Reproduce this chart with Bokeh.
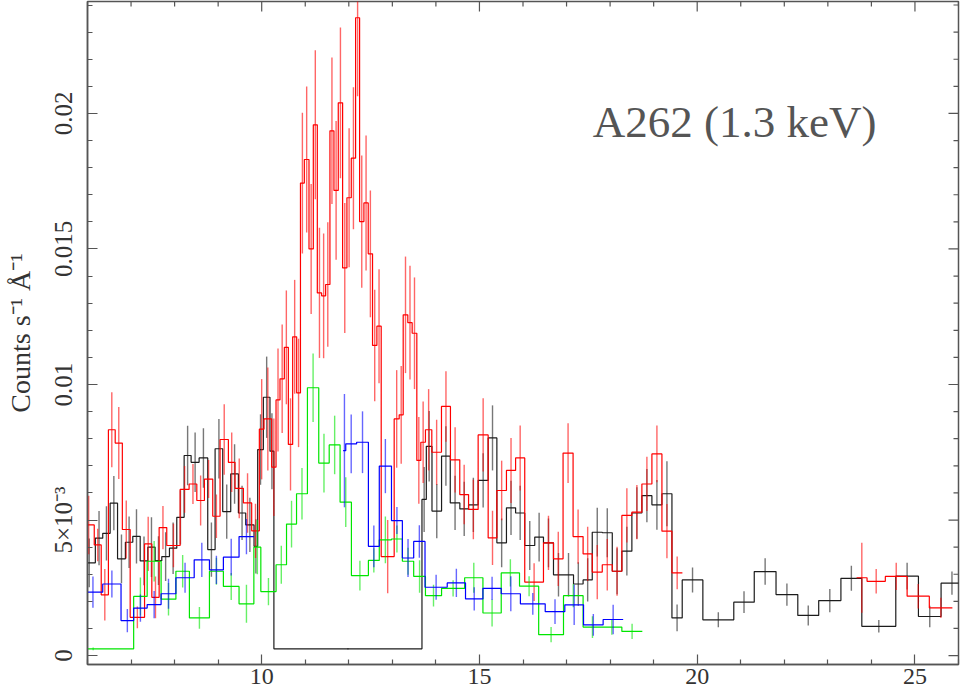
import math
from bokeh.plotting import figure
from bokeh.models import Range1d, FixedTicker, Label
from bokeh.embed import file_html
from bokeh.resources import INLINE

# ---------------- data (rates in units of 1e-3 counts/s/A) ----------------
SCALE = 1e-3

x_major_ticks = [10, 15, 20, 25]
x_minor_ticks = [6, 7, 8, 9, 11, 12, 13, 14, 16, 17, 18, 19, 21, 22, 23, 24, 26]
y_major_ticks = [0, 0.005, 0.01, 0.015, 0.02]
y_tick_labels = ["0", "5×10⁻³", "0.01", "0.015", "0.02"]
y_minor_ticks = [0.001, 0.002, 0.003, 0.004, 0.006, 0.007, 0.008, 0.009, 0.011,
                 0.012, 0.013, 0.014, 0.016, 0.017, 0.018, 0.019, 0.021, 0.022,
                 0.023, 0.024]
title_text = "A262 (1.3 keV)"
y_axis_title = "Counts s⁻¹ Å⁻¹"

black_edges = [5.90, 6.18, 6.35, 6.52, 6.69, 6.87, 7.04, 7.21, 7.385, 7.553, 7.706,
               7.882, 8.05, 8.219, 8.379, 8.563, 8.761, 8.93, 9.105, 9.289, 9.465,
               9.633, 9.824, 9.908, 10.038, 10.19, 10.28, 13.68, 13.78, 13.91, 14.13,
               14.33, 14.55, 14.75, 14.97, 15.20, 15.40, 15.62, 15.83, 16.04, 16.27,
               16.47, 16.70, 16.93, 17.16, 17.38, 17.59, 17.82, 18.05, 18.27, 18.50,
               18.73, 18.96, 19.19, 19.42, 19.656, 20.13, 20.84, 21.31, 21.81, 22.31,
               22.79, 23.30, 23.78, 24.56, 25.08, 25.60, 26.10]
black_vals = [3.42, 4.33, 4.51, 5.62, 3.57, 4.18, 4.40, 3.49, 4.0, 3.5, 3.65, 3.96,
              5.10, 7.38, 7.13, 7.29, 3.91, 7.63, 5.31, 6.70, 5.26, 4.82, 4.03, 7.60,
              9.53, 7.54, 0.25, 5.76, 7.72, 5.33, 7.36, 5.63, 5.41, 5.56, 6.46, 8.03,
              4.16, 5.45, 5.26, 4.06, 4.37, 4.16, 2.98, 2.98, 2.64, 2.79, 4.55, 4.53,
              3.11, 3.85, 5.26, 5.90, 5.56, 5.97, 1.39, 2.79, 1.32, 1.97, 3.10, 2.25,
              1.48, 2.03, 2.85, 1.08, 2.93, 1.44, 2.67]
black_errs = [0.9, 1.0, 1.0, 1.0, 0.9, 0.95, 1.0, 0.9, 1.1, 0.9, 0.9, 0.95, 1.0, 1.1,
              1.1, 1.1, 1.0, 1.1, 1.0, 1.1, 1.0, 1.0, 1.0, 1.3, 1.5, 1.4, 0.03, 1.2,
              1.3, 1.0, 1.1, 1.0, 1.0, 1.0, 1.0, 1.2, 0.9, 1.0, 1.0, 0.9, 0.9, 0.9,
              0.8, 0.8, 0.8, 0.8, 0.9, 0.9, 0.85, 0.9, 0.95, 0.98, 0.92, 1.2, 0.49,
              0.46, 0.28, 0.4, 0.49, 0.41, 0.37, 0.43, 0.46, 0.23, 0.49, 0.4, 0.43]

red_edges = [5.90, 6.155, 6.315, 6.48, 6.636, 6.80, 6.98, 7.31, 7.477, 7.645, 7.82,
             8.127, 8.333, 8.51, 8.685, 8.876, 9.044, 9.235, 9.388, 9.58, 9.77, 9.946,
             10.053, 10.229, 10.329, 10.42, 10.52, 10.612, 10.711, 10.803, 10.89,
             10.979, 11.086, 11.185, 11.277, 11.376, 11.468, 11.567, 11.659, 11.758,
             11.858, 11.957, 12.057, 12.156, 12.248, 12.347, 12.446, 12.545, 12.645,
             12.744, 13.042, 13.157, 13.249, 13.355, 13.455, 13.562, 13.654, 13.76,
             13.906, 14.128, 14.334, 14.548, 14.75, 14.97, 15.20, 15.40, 15.62, 15.83,
             16.04, 16.47, 16.70, 16.92, 17.15, 17.38, 17.59, 17.82, 18.05, 18.27,
             18.50, 18.73, 18.96, 19.19, 19.42, 19.66, 23.66, 23.90, 24.32, 24.82,
             25.33, 25.86]
red_vals = [4.82, 4.08, 2.24, 8.33, 7.84, 4.65, 1.41, 4.12, 2.15, 4.72, 4.06, 6.13,
            6.33, 5.72, 6.51, 5.14, 7.97, 7.13, 6.17, 5.63, 4.6, 8.35, 8.73, 6.95,
            9.43, 10.21, 11.37, 7.79, 11.76, 9.69, 17.43, 18.30, 15.0, 19.58, 13.38,
            13.27, 13.69, 19.36, 17.16, 20.39, 14.30, 16.89, 18.35, 23.53, 16.01,
            16.70, 14.82, 11.44, 12.15, 3.65, 8.73, 8.88, 12.57, 12.28, 11.89, 7.2,
            7.87, 8.33, 7.5, 9.19, 7.22, 5.94, 5.39, 8.14, 4.34, 6.09, 6.83, 7.29,
            2.71, 4.16, 3.57, 7.47, 4.39, 3.75, 3.08, 3.35, 3.11, 5.17, 5.29, 6.33,
            7.44, 4.59, 3.05, None, 2.87, 2.74, 2.92, 2.19, 1.76]
red_errs = [1.08, 0.6, 0.95, 1.38, 1.33, 1.07, 0.4, 1.0, 0.77, 0.8, 0.8, 0.86, 0.74,
            0.92, 0.7, 0.8, 1.3, 1.1, 1.1, 1.1, 1.0, 1.85, 1.9, 1.8, 1.9, 2.0, 2.1,
            1.7, 2.1, 2.0, 2.6, 2.69, 2.4, 2.75, 2.4, 2.3, 2.3, 2.7, 2.56, 2.78, 2.4,
            2.56, 2.62, 2.9, 2.44, 2.49, 2.34, 2.06, 2.1, 1.35, 1.8, 1.8, 2.15, 2.1,
            2.06, 1.6, 1.5, 1.5, 1.2, 1.3, 1.2, 1.1, 1.1, 1.35, 1.0, 1.1, 1.2, 1.2,
            0.7, 1.0, 1.0, 1.1, 1.0, 1.0, 1.0, 0.95, 0.9, 1.0, 1.0, 1.0, 1.05, 1.0,
            0.6, None, 1.29, 0.45, 0.5, 0.45, 0.37]

green_edges = [5.2, 7.06, 7.37, 7.69, 8.03, 8.34, 8.80, 9.12, 9.48, 9.82, 9.98, 10.33,
               10.57, 10.80, 11.05, 11.31, 11.55, 11.80, 12.06, 12.45, 12.70, 12.98,
               13.23, 13.49, 13.76, 14.13, 14.66, 15.08, 15.50, 15.92, 16.36, 16.93,
               17.38, 17.81, 18.27, 18.74]
green_vals = [0.25, 2.18, 3.48, 2.08, 3.11, 1.39, 3.11, 2.55, 1.91, 4.0, 2.36, 3.35,
              4.85, 5.97, 9.88, 7.10, 7.77, 5.66, 2.95, 3.51, 4.27, 4.30, 3.48, 2.92,
              2.21, 2.48, 2.87, 1.57, 3.05, 2.56, 0.77, 2.21, 1.05, 1.05, 0.89]
green_errs = [0.05, 0.7, 0.75, 0.6, 0.6, 0.4, 0.5, 0.5, 0.7, 1.0, 0.5, 0.7, 0.86,
              0.95, 1.26, 1.08, 1.08, 0.92, 0.55, 0.45, 0.86, 0.5, 0.5, 0.6, 0.4, 0.3,
              0.55, 0.5, 0.5, 0.37, 0.28, 0.43, 0.4, 0.28, 0.28]

blue_edges = [5.9, 6.35, 6.77, 7.06, 7.37, 7.69, 8.03, 8.45, 8.80, 9.12, 9.48, 9.82,
              11.87, 11.93, 12.18, 12.45, 12.70, 12.98, 13.23, 13.49, 13.75, 14.26,
              14.68, 15.08, 15.50, 15.94, 16.51, 16.96, 17.39, 17.84, 18.30]
blue_vals = [2.34, 2.64, 1.29, 1.75, 1.88, 2.28, 2.87, 3.53, 3.16, 3.63, 4.39, None,
             7.56, 7.81, 7.87, 4.03, 6.99, 4.98, 3.60, 4.21, 2.52, 2.68, 2.09, 2.48,
             2.28, 1.91, 1.62, 1.87, 1.13, 1.33]
blue_errs = [0.58, 0.5, 0.43, 0.5, 0.5, 0.55, 0.55, 0.63, 0.52, 0.68, 0.65, None,
             2.09, 1.08, 1.14, 0.77, 1.0, 0.5, 0.7, 0.6, 0.46, 0.52, 0.43, 0.43, 0.65,
             0.4, 0.46, 0.74, 0.4, 0.54]

series = [
    ("black", black_edges, black_vals, black_errs, "#1c1c1c"),
    ("red", red_edges, red_vals, red_errs, "#ff0000"),
    ("green", green_edges, green_vals, green_errs, "#00e600"),
    ("blue", blue_edges, blue_vals, blue_errs, "#0000ff"),
]

X_START, X_END = 6, 26
Y_START, Y_END = -0.00033, 0.02413


# ---------------- helpers ----------------
def step_path(edges, vals):
    xs, ys = [], []
    for i, v in enumerate(vals):
        if v is None:
            xs.append(float("nan"))
            ys.append(float("nan"))
        else:
            xs += [edges[i], edges[i + 1]]
            ys += [v * SCALE, v * SCALE]
    return xs, ys


def error_bars(edges, vals, errs):
    xc, lo, hi = [], [], []
    for i, (v, e) in enumerate(zip(vals, errs)):
        if v is None:
            continue
        xc.append(0.5 * (edges[i] + edges[i + 1]))
        lo.append((v - e) * SCALE)
        hi.append((v + e) * SCALE)
    return xc, lo, hi


# ---------------- figure ----------------
FONT = "Liberation Serif"
AX_COL = "#555555"
TXT_COL = "#333333"

p = figure(width=960, height=695, output_backend="svg", toolbar_location=None,
           x_range=Range1d(X_START, X_END), y_range=Range1d(Y_START, Y_END),
           min_border_left=87, min_border_right=2, min_border_top=1,
           min_border_bottom=31)
p.xgrid.visible = False
p.ygrid.visible = False
p.outline_line_color = AX_COL
p.outline_line_width = 1.5
p.background_fill_color = "white"
p.border_fill_color = "white"


def style_axis(ax):
    ax.major_tick_in = 10
    ax.major_tick_out = 0
    ax.minor_tick_in = 5
    ax.minor_tick_out = 0
    ax.axis_line_color = AX_COL
    ax.axis_line_width = 1.5
    ax.major_tick_line_color = AX_COL
    ax.minor_tick_line_color = AX_COL
    ax.major_tick_line_width = 1.2
    ax.minor_tick_line_width = 1.2
    ax.major_label_text_font = FONT
    ax.major_label_text_color = TXT_COL


xa = p.xaxis[0]
xa.ticker = FixedTicker(ticks=x_major_ticks, minor_ticks=x_minor_ticks)
style_axis(xa)
xa.major_label_text_font_size = "24px"
xa.major_label_standoff = 4

ya = p.yaxis[0]
ya.ticker = FixedTicker(ticks=y_major_ticks, minor_ticks=y_minor_ticks)
style_axis(ya)
ya.major_label_text_font_size = "25px"
ya.major_label_orientation = "vertical"
ya.major_label_standoff = 10
ya.major_label_overrides = {t: lab for t, lab in zip(y_major_ticks, y_tick_labels)}
ya.axis_label = y_axis_title
ya.axis_label_text_font = FONT
ya.axis_label_text_font_size = "28px"
ya.axis_label_text_font_style = "normal"
ya.axis_label_text_color = TXT_COL
ya.axis_label_standoff = 12

# inward ticks on the top and right frame edges (no labels)
p.ray(x=x_major_ticks, y=[Y_END] * len(x_major_ticks), length=10, length_units="screen",
      angle=-math.pi / 2, line_color=AX_COL, line_width=1.2)
p.ray(x=x_minor_ticks, y=[Y_END] * len(x_minor_ticks), length=5, length_units="screen",
      angle=-math.pi / 2, line_color=AX_COL, line_width=1.2)
p.ray(x=[X_END] * len(y_major_ticks), y=y_major_ticks, length=10, length_units="screen",
      angle=math.pi, line_color=AX_COL, line_width=1.2)
p.ray(x=[X_END] * len(y_minor_ticks), y=y_minor_ticks, length=5, length_units="screen",
      angle=math.pi, line_color=AX_COL, line_width=1.2)

for name, edges, vals, errs, col in series:
    xs, ys = step_path(edges, vals)
    p.line(xs, ys, line_color=col, line_width=1.2)
    xc, lo, hi = error_bars(edges, vals, errs)
    p.segment(x0=xc, y0=lo, x1=xc, y1=hi, line_color=col, line_width=1.4,
              line_alpha=0.6)

p.add_layout(Label(x=17.6, y=0.0197, text=title_text, text_font=FONT,
                   text_font_size="45px", text_color="#555555",
                   text_baseline="alphabetic", text_align="left"))

open("out.html", "w").write(file_html(p, INLINE))
